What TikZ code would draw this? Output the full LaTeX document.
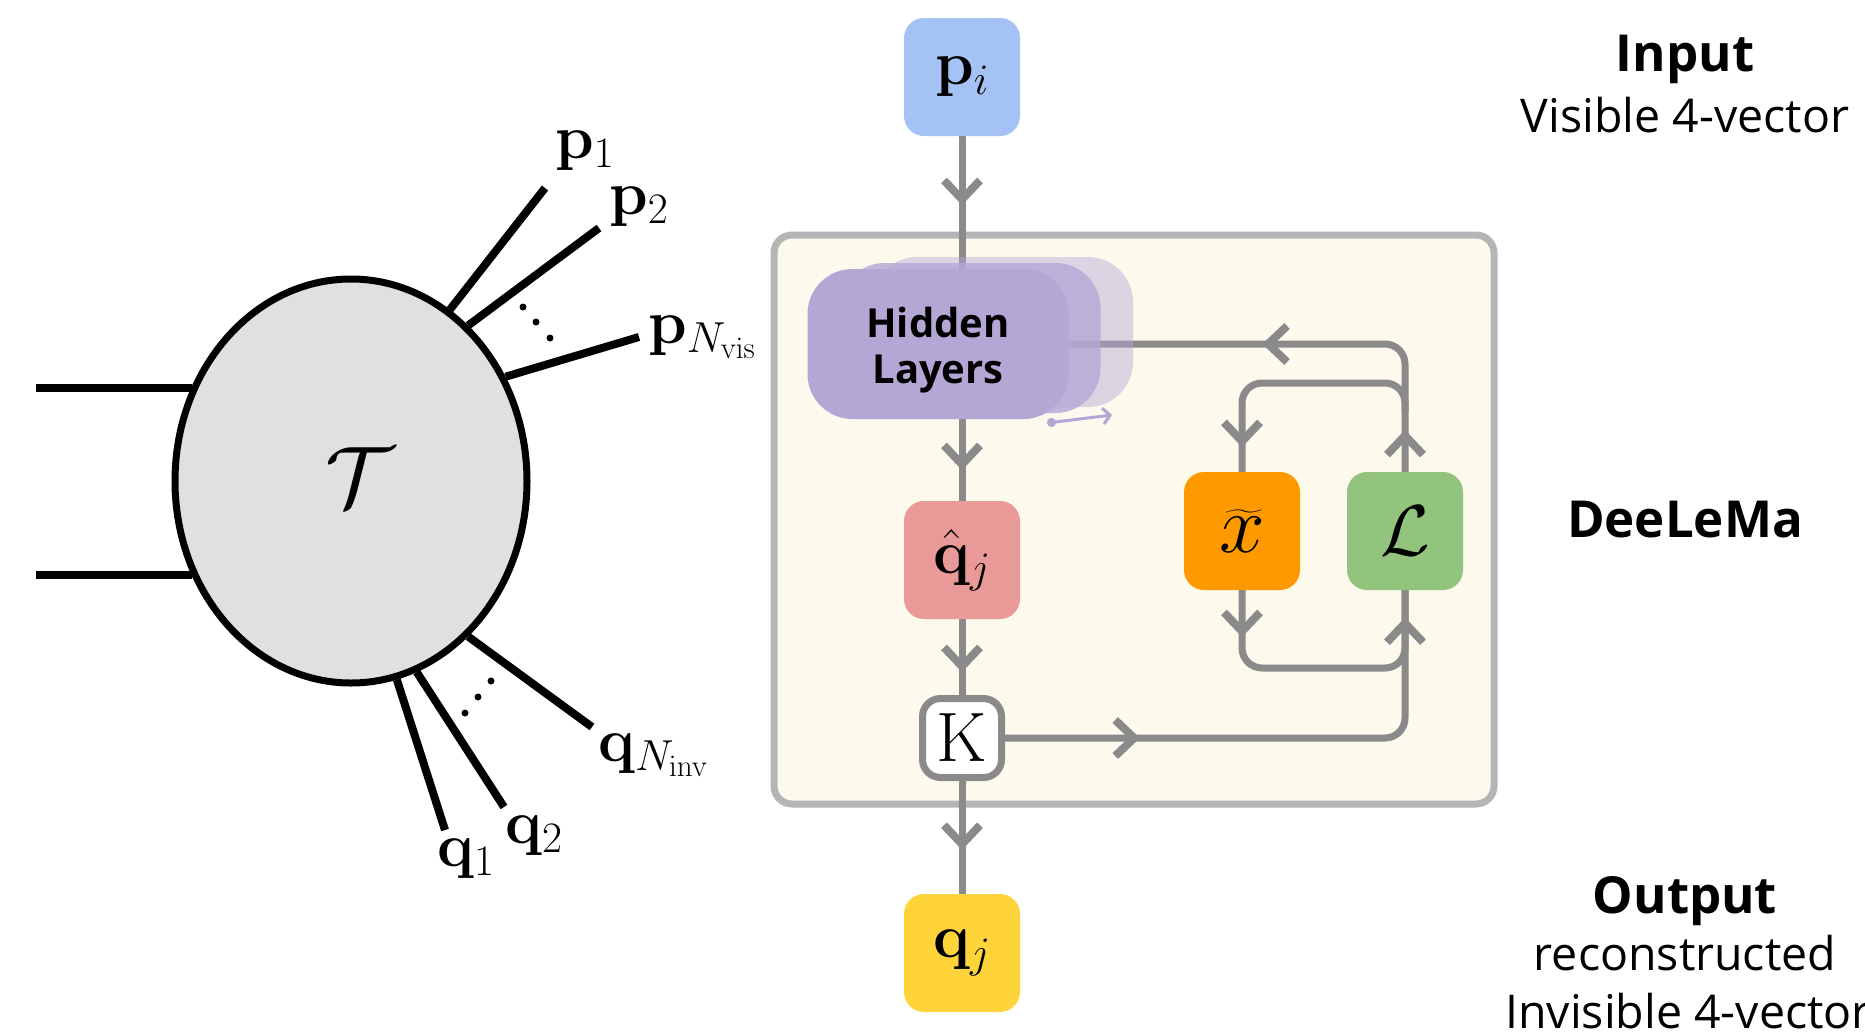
\RequirePackage{fix-cm}
\documentclass[tikz,border=0pt]{standalone}
\usepackage{amsmath}
\usepackage[no-math]{fontspec}
\newfontfamily\osans{Open Sans}
\usetikzlibrary{arrows.meta,decorations.markings,shapes.geometric}
\pgfdeclarelayer{back}
\pgfdeclarelayer{mid}
\pgfsetlayers{back,mid,main}
\definecolor{linegray}{HTML}{8A8A8A}
\definecolor{boxgray}{HTML}{B5B5B5}
\definecolor{cream}{HTML}{FDF9EC}
\definecolor{piblue}{HTML}{A4C2F4}
\definecolor{qhpink}{HTML}{EA9999}
\definecolor{qjyellow}{HTML}{FFD43B}
\definecolor{xorange}{HTML}{FF9900}
\definecolor{lgreen}{HTML}{93C47D}
\definecolor{hpurple}{HTML}{B4A7D6}
\definecolor{ellgray}{HTML}{E0E0E0}
\newcommand\MyMath{\fontsize{62}{68}\selectfont}
\begin{document}
\begin{tikzpicture}[x=1pt,y=-1pt,
  gl/.style={draw=linegray, line width=7pt},
  bl/.style={draw=black, line width=8pt},
  chev/.tip={Straight Barb[length=19pt,width=36pt,line width=8pt]},
  tipat/.style={postaction={decorate,decoration={markings,mark=at position #1 with {\arrow{chev}}}}},
  cbox/.style={rounded corners=20pt, minimum width=116pt, minimum height=118pt, inner sep=0pt, font=\MyMath},
  hl/.style={rounded corners=45pt, minimum width=261pt, minimum height=150pt, inner sep=0pt, fill=hpurple},
  rtext/.style={font=\osans\fontsize{46.5}{54}\selectfont, anchor=base},
  rhead/.style={font=\osans\bfseries\fontsize{51}{60}\selectfont, anchor=base},
  lab/.style={font=\MyMath, anchor=base west, inner sep=0pt},
]
\useasboundingbox (0,0) rectangle (1865,1031);
\begin{pgfonlayer}{back}
\fill[white] (0,0) rectangle (1865,1031);
\node[draw=boxgray, line width=7pt, fill=cream, rounded corners=18pt, minimum width=720pt, minimum height=569pt] (deel) at (1134,519.5) {};
\end{pgfonlayer}

% flow chart nodes
\node[cbox, fill=piblue] (pi) at (962,77) {$\mathbf{p}_i$};
\node[hl, fill opacity=0.45] (hl3) at (1002.5,332) {};
\node[hl, fill opacity=0.8] (hl2) at (970,338) {};
\node[hl] (hidden) at (938,344) {};
\node[font=\osans\bfseries\fontsize{40}{46}\selectfont, align=center, inner sep=0pt] (hltext) at (938,350) {Hidden\\Layers};
\node[cbox, fill=qhpink] (qh) at (962,560) {$\hat{\mathbf{q}}_j$};
\node[draw=linegray, line width=7pt, fill=white, rounded corners=18pt, minimum size=79pt, inner sep=0pt, font=\fontsize{70}{76}\selectfont] (K) at (962,738) {$\mathrm{K}$};
\node[cbox, fill=qjyellow] (qj) at (962,953) {$\mathbf{q}_j$};
\node[cbox, fill=xorange, font=\fontsize{82}{88}\selectfont] (xt) at (1242,531) {$\widetilde{x}$};
\node[cbox, fill=lgreen, font=\fontsize{72}{78}\selectfont] (L) at (1405,531) {$\mathcal{L}$};

\coordinate (ha) at (1047,423);
\coordinate (hb) at (1112,415);
\draw[hpurple, line width=3pt, {Circle[length=9pt]}-{Straight Barb[length=7pt,width=16pt]}] (ha) -- (hb);

% right labels
\node[rhead] (tin) at (1685,71) {Input};
\node[rtext] (tvis) at (1685,132) {Visible 4-vector};
\node[rhead] (tdee) at (1685,537) {DeeLeMa};
\node[rhead] (tout) at (1685,913) {Output};
\node[rtext] (trec) at (1685,970) {reconstructed};
\node[rtext] (tinv) at (1688,1028) {Invisible 4-vector};

% left diagram
\node[ellipse, draw=black, line width=7pt, fill=ellgray, minimum width=352pt, minimum height=404pt, inner sep=0pt] (T) at (351,481) {};
\node[font=\fontsize{86}{92}\selectfont, inner sep=0pt] (tau) at (360,477) {$\mathcal{T}$};
\coordinate (in1) at (36,388);
\coordinate (in2) at (36,575);
\coordinate (p1) at (545,188);
\coordinate (p2) at (599,228);
\coordinate (pn) at (639,337);
\coordinate (qn) at (592,727);
\coordinate (q2) at (504,807);
\coordinate (q1) at (445,830);
\draw[bl] (in1) -- (in1 -| T.149);
\draw[bl] (in2) -- (in2 -| T.211);
\draw[bl] (T.60) -- (p1);
\draw[bl] (T.53) -- (p2);
\draw[bl] (T.34) -- (pn);
\draw[bl] (T.-53) -- (qn);
\draw[bl] (T.-71.5) -- (q2);
\draw[bl] (T.-77.5) -- (q1);
\fill (523,307) circle (3.5pt);
\fill (536,322) circle (3.5pt);
\fill (550,338) circle (3.5pt);
\fill (465,713) circle (3.5pt);
\fill (478,697) circle (3.5pt);
\fill (491,681) circle (3.5pt);
\node[lab] (lp1) at (555,158) {$\mathbf{p}_1$};
\node[lab] (lp2) at (609,214) {$\mathbf{p}_2$};
\node[lab] (lpn) at (648,343) {$\mathbf{p}_{N_{\mathrm{vis}}}$};
\node[lab] (lqn) at (598,761) {$\mathbf{q}_{N_{\mathrm{inv}}}$};
\node[lab] (lq2) at (505,843) {$\mathbf{q}_2$};
\node[lab] (lq1) at (437,866) {$\mathbf{q}_1$};

% connectors
\begin{pgfonlayer}{mid}
\draw[gl, tipat=69pt] (pi.south) -- (pi.south |- hidden.north);
\draw[gl, tipat=51pt] (qh.north |- hidden.south) -- (qh.north);
\draw[gl, tipat=53pt] (qh.south) -- (K.north);
\draw[gl, tipat=69pt] (K.south) -- (qj.north);
\draw[gl, rounded corners=20pt, tipat=135pt, tipat=512pt] (K.east) -| (L.south);
\draw[gl, rounded corners=20pt, tipat=47pt] (xt.south) -- (xt.south |- 0,668) -| (L.south);
\draw[gl, rounded corners=20pt, tipat=42pt, tipat=262pt] (L.north) |- (hidden.east);
\coordinate (br) at (1405,412);
\draw[gl, rounded corners=20pt, tipat=239pt] (br) -- (br |- 0,383) -| (xt.north);
\end{pgfonlayer}
\end{tikzpicture}
\end{document}
